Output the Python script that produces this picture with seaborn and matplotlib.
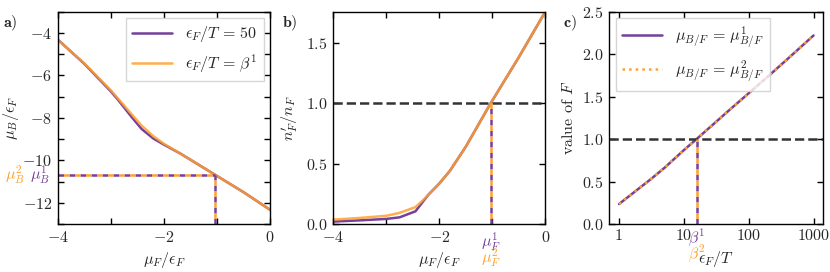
import numpy as np
import pandas as pd
import matplotlib
matplotlib.use('Agg')
import matplotlib.pyplot as plt
import matplotlib.transforms as mtransforms
from matplotlib.ticker import MultipleLocator, FixedLocator, NullLocator
import seaborn as sns

# ---- data ----
# panel a: mu_B / eps_F versus mu_F / eps_F
muF_a = [-4.0, -3.5, -3.0, -2.86, -2.6, -2.42, -2.2, -2.0, -1.69, -1.03, -0.5, 0.0]
muB_50 = [-4.31, -5.45, -6.75, -7.16, -7.98, -8.52, -8.97, -9.26, -9.68, -10.69, -11.5, -12.33]
muB_beta = [-4.33, -5.43, -6.7, -7.1, -7.85, -8.36, -8.86, -9.22, -9.68, -10.69, -11.5, -12.33]

# panel b: n'_F / n_F versus mu_F / eps_F
muF_b = [-4.0, -3.5, -3.0, -2.75, -2.45, -2.3, -2.2, -2.0, -1.8, -1.5, -1.03, -0.5, 0.0]
nF_50 = [0.02, 0.03, 0.042, 0.055, 0.105, 0.19, 0.245, 0.335, 0.44, 0.64, 1.0, 1.38, 1.757]
nF_beta = [0.036, 0.05, 0.068, 0.092, 0.14, 0.2, 0.245, 0.335, 0.44, 0.64, 1.0, 1.38, 1.757]

# panel c: value of F versus eps_F / T
epsT = [1, 2, 3, 5, 10, 15.7, 30, 50, 100, 200, 380, 1000]
F_mu1 = [0.235, 0.415, 0.52, 0.66, 0.87, 1.0, 1.19, 1.34, 1.54, 1.74, 1.93, 2.22]
F_mu2 = [0.235, 0.415, 0.52, 0.66, 0.87, 1.0, 1.19, 1.34, 1.54, 1.74, 1.93, 2.22]

# crossing points
muF_star = -1.03
muB_star = -10.69
beta_star = 15.7

c_ticks = [1, 10, 100, 1000]
c_ticklabels = ['1', '10', '100', '1000']

purple = '#74409a'
orange = '#ffa030'
dark = '#333333'

sns.set_theme(style='ticks')
plt.rcParams.update({
    'font.family': 'serif',
    'font.serif': ['cmr10'],
    'mathtext.fontset': 'cm',
    'axes.formatter.use_mathtext': True,
    'axes.unicode_minus': True,
    'font.size': 11.5,
    'axes.labelsize': 11.5,
    'xtick.labelsize': 11.5,
    'ytick.labelsize': 11.5,
    'legend.fontsize': 11.5,
    'axes.linewidth': 1.0,
    'axes.edgecolor': 'black',
})

fig = plt.figure(figsize=(8.3, 2.72), dpi=100)
ax_a = fig.add_axes([0.0695, 0.1765, 0.2558, 0.7805])
ax_b = fig.add_axes([0.4016, 0.1765, 0.2554, 0.7805])
ax_c = fig.add_axes([0.7341, 0.1765, 0.2578, 0.7805])

lw = 1.8
dash_p = (0, (2.2, 2.2))
dash_o = (2.2, (2.2, 2.2))


def style(ax):
    ax.tick_params(which='both', direction='in', top=True, right=True,
                   length=4, width=1, color='black', pad=4)
    for s in ax.spines.values():
        s.set_color('black')
        s.set_linewidth(1.0)


# ---- a) ----
da = pd.DataFrame({'muF': muF_a, 'b50': muB_50, 'bbeta': muB_beta})
sns.lineplot(data=da, x='muF', y='b50', ax=ax_a, color=purple, lw=lw,
             label=r'$\epsilon_F/T\,=\,50$')
sns.lineplot(data=da, x='muF', y='bbeta', ax=ax_a, color=orange, lw=lw, alpha=0.85,
             label=r'$\epsilon_F/T\,=\,\beta^1$')
ax_a.set_xlim(-4, 0)
ax_a.set_ylim(-13, -3)
for ls, col in [(dash_p, purple), (dash_o, orange)]:
    ax_a.plot([-4, muF_star], [muB_star, muB_star], color=col, lw=lw, ls=ls)
    ax_a.plot([muF_star, muF_star], [-13, muB_star], color=col, lw=lw, ls=ls)
ax_a.xaxis.set_major_locator(MultipleLocator(2))
ax_a.xaxis.set_minor_locator(MultipleLocator(1))
ax_a.yaxis.set_major_locator(MultipleLocator(2))
ax_a.yaxis.set_minor_locator(MultipleLocator(1))
ax_a.set_xlabel(r'$\mu_F/\epsilon_F$')
ax_a.set_ylabel(r'$\mu_B/\epsilon_F$', labelpad=1)
tr = mtransforms.blended_transform_factory(ax_a.transAxes, ax_a.transData)
ax_a.text(-0.036, muB_star, r'$\mu_B^1$', color=purple, ha='right', va='center', transform=tr)
ax_a.text(-0.154, muB_star, r'$\mu_B^2$', color=orange, ha='right', va='center', transform=tr)
leg = ax_a.legend(loc='upper right', fancybox=False, edgecolor='#cccccc',
                  handlelength=2.5, borderaxespad=0.4)
leg.get_frame().set_linewidth(1.0)
style(ax_a)

# ---- b) ----
db = pd.DataFrame({'muF': muF_b, 'n50': nF_50, 'nbeta': nF_beta})
sns.lineplot(data=db, x='muF', y='n50', ax=ax_b, color=purple, lw=lw)
sns.lineplot(data=db, x='muF', y='nbeta', ax=ax_b, color=orange, lw=lw, alpha=0.85)
ax_b.set_xlim(-4, 0)
ax_b.set_ylim(0, nF_beta[-1])
ax_b.axhline(1.0, color=dark, lw=lw, ls='--')
for ls, col in [(dash_p, purple), (dash_o, orange)]:
    ax_b.plot([muF_star, muF_star], [0, 1.0], color=col, lw=lw, ls=ls)
ax_b.xaxis.set_major_locator(MultipleLocator(2))
ax_b.xaxis.set_minor_locator(MultipleLocator(1))
ax_b.yaxis.set_major_locator(MultipleLocator(0.5))
ax_b.yaxis.set_minor_locator(NullLocator())
ax_b.set_xlabel(r'$\mu_F/\epsilon_F$')
ax_b.set_ylabel(r"$n_F'/n_F$")
tr = mtransforms.blended_transform_factory(ax_b.transData, ax_b.transAxes)
ax_b.text(muF_star, -0.082, r'$\mu_F^1$', color=purple, ha='center', va='center', transform=tr)
ax_b.text(muF_star, -0.16, r'$\mu_F^2$', color=orange, ha='center', va='center', transform=tr)
style(ax_b)

# ---- c) ----
dc = pd.DataFrame({'epsT': epsT, 'F1': F_mu1, 'F2': F_mu2})
sns.lineplot(data=dc, x='epsT', y='F1', ax=ax_c, color=purple, lw=lw,
             label=r'$\mu_{B/F}\,=\,\mu_{B/F}^1$')
sns.lineplot(data=dc, x='epsT', y='F2', ax=ax_c, color=orange, lw=lw, ls=':',
             label=r'$\mu_{B/F}\,=\,\mu_{B/F}^2$')
ax_c.set_xscale('log')
ax_c.set_xlim(10 ** -0.15, 10 ** 3.15)
ax_c.set_ylim(0, 2.5)
ax_c.axhline(1.0, color=dark, lw=lw, ls='--')
for ls, col in [(dash_p, purple), (dash_o, orange)]:
    ax_c.plot([beta_star, beta_star], [0, 1.0], color=col, lw=lw, ls=ls)
ax_c.xaxis.set_major_locator(FixedLocator(c_ticks))
ax_c.set_xticklabels(c_ticklabels)
ax_c.xaxis.set_minor_locator(NullLocator())
ax_c.yaxis.set_major_locator(MultipleLocator(0.5))
ax_c.yaxis.set_minor_locator(NullLocator())
ax_c.set_xlabel(r'$\epsilon_F/T$')
ax_c.set_ylabel(r'value of $F$')
tr = mtransforms.blended_transform_factory(ax_c.transData, ax_c.transAxes)
ax_c.text(beta_star * 1.02, -0.06, r'$\beta^1$', color=purple, ha='center', va='center', transform=tr)
ax_c.text(beta_star, -0.135, r'$\beta^2$', color=orange, ha='center', va='center', transform=tr)
leg = ax_c.legend(loc='upper left', fancybox=False, edgecolor='#cccccc',
                  handlelength=2.5, borderaxespad=0.4)
leg.get_frame().set_linewidth(1.0)
style(ax_c)

# panel letters
for xf, lab in [(0.004, 'a'), (0.34, 'b'), (0.678, 'c')]:
    fig.text(xf, 0.915, r'$\mathbf{' + lab + r'})$', fontsize=11.5, va='center')

fig.savefig('out.png', dpi=100)
